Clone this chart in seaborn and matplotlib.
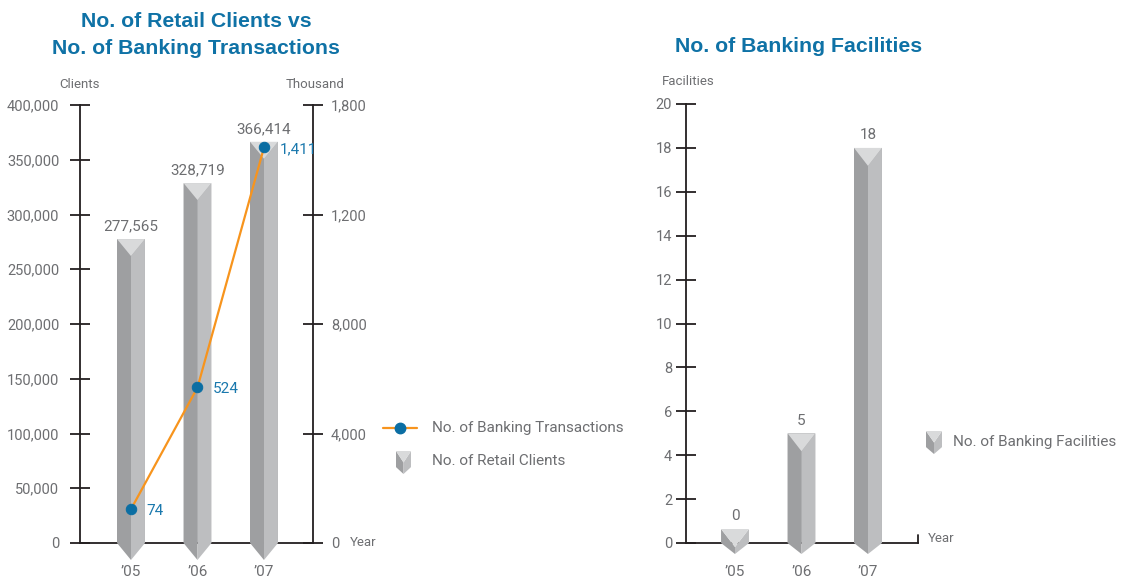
import matplotlib

matplotlib.use("Agg")

import matplotlib.pyplot as plt
import numpy as np
import seaborn as sns
from matplotlib import font_manager
from matplotlib.patches import Polygon

# data
years = ["’05", "’06", "’07"]
retail_clients = [277565, 328719, 366414]
banking_transactions = [74, 524, 1411]
client_ticks = list(range(0, 400001, 50000))
transaction_tick_labels = ["0", "4,000", "8,000", "1,200", "1,800"]
banking_facilities = [0, 5, 18]
facility_ticks = list(range(0, 21, 2))

W, H = 1131, 580
TITLE_BLUE = "#0f72a6"
LABEL_BLUE = "#1a78ad"
GRAY = "#6d6e71"
AXIS = "#231f20"
DARK = "#9e9fa1"
LIGHT = "#bdbec0"
CAP = "#d9dadb"
ORANGE = "#f7941d"
DOT = "#0b6ea3"

sns.set_style("white")
names = {f.name for f in font_manager.fontManager.ttflist}
body_font = "Liberation Sans Narrow" if "Liberation Sans Narrow" in names else "Roboto"
plt.rcParams["font.family"] = [body_font, "DejaVu Sans"]


def fig_xy(x, y):
    return x / W, 1 - y / H


def draw_prisms(ax, values, width, cap_px, tip_px, min_px=0):
    y0, y1 = ax.get_ylim()
    per_px = (y1 - y0) / (ax.get_position().height * H)
    tops = []
    for i, v in enumerate(values):
        top = max(v, min_px * per_px)
        x0, xc, x1 = i - width / 2, i, i + width / 2
        notch = top - cap_px * per_px
        tip = -tip_px * per_px
        shapes = [
            ([(x0, top), (xc, notch), (xc, tip), (x0, 0)], DARK),
            ([(x1, top), (xc, notch), (xc, tip), (x1, 0)], LIGHT),
            ([(x0, top), (x1, top), (xc, notch)], CAP),
        ]
        for pts, color in shapes:
            ax.add_patch(Polygon(pts, closed=True, fc=color, ec="none", zorder=2, clip_on=False))
        tops.append(top)
    return tops


def legend_icon(fig, x0, y0, w, h):
    x1, xc = x0 + w, x0 + w / 2
    notch, side, tip = y0 + 0.5 * h, y0 + 0.7 * h, y0 + h
    shapes = [
        ([(x0, y0), (xc, notch), (xc, tip), (x0, side)], DARK),
        ([(x1, y0), (xc, notch), (xc, tip), (x1, side)], LIGHT),
        ([(x0, y0), (x1, y0), (xc, notch)], CAP),
    ]
    for pts, color in shapes:
        fig.add_artist(Polygon([fig_xy(*p) for p in pts], closed=True, fc=color, ec="none",
                               transform=fig.transFigure))


def style_axis(ax, pad):
    ax.tick_params(axis="y", left=True, direction="inout", length=14, width=1.3, color=AXIS,
                   pad=pad, labelsize=10.5, labelcolor=GRAY)
    ax.tick_params(axis="x", bottom=True, length=0, pad=16, labelsize=11, labelcolor=GRAY)
    for side in ["top", "right"]:
        ax.spines[side].set_visible(False)
    for side in ["left", "bottom"]:
        ax.spines[side].set_color(AXIS)
        ax.spines[side].set_linewidth(1.3)
    ax.spines["bottom"].set_zorder(1)
    ax.set_xlabel("")
    ax.set_ylabel("")


fig = plt.figure(figsize=(W / 100, H / 100), dpi=100)

# left panel: retail clients vs banking transactions
ax1 = fig.add_axes([80 / W, 1 - 543 / H, 233 / W, 438 / H])
sns.barplot(x=years, y=retail_clients, ax=ax1, color=DARK, saturation=1, width=0.42,
            edgecolor="none")
ax1.set_ylim(0, 400000)
ax1.set_xlim(-0.767, 2.737)
ax1.set_yticks(client_ticks, [f"{t:,}" for t in client_ticks])
style_axis(ax1, pad=8)
tops = draw_prisms(ax1, retail_clients, 0.42, cap_px=17, tip_px=17)
for i, (v, top) in enumerate(zip(retail_clients, tops)):
    ax1.annotate(f"{v:,}", (i, top), xytext=(0, 4), textcoords="offset points",
                 ha="center", va="bottom", color=GRAY, fontsize=11)

ax2 = ax1.twinx()
sns.lineplot(x=years, y=banking_transactions, ax=ax2, color=ORANGE, lw=1.6, marker="o",
             markersize=7.5, markerfacecolor=DOT, markeredgecolor=DOT, legend=False)
ax2.set_ylim(-51, 1568)
ax2.set_yticks(np.linspace(-51, 1568, 5), transaction_tick_labels)
ax2.tick_params(axis="y", right=True, direction="inout", length=14, width=1.3, color=AXIS,
                pad=6, labelsize=10.5, labelcolor=GRAY)
for side in ["top", "left", "bottom"]:
    ax2.spines[side].set_visible(False)
ax2.spines["right"].set_color(AXIS)
ax2.spines["right"].set_linewidth(1.3)
ax2.set_ylabel("")
for i, v in enumerate(banking_transactions):
    ax2.annotate(f"{v:,}", (i, v), xytext=(11, -1), textcoords="offset points",
                 ha="left", va="center", color=LABEL_BLUE, fontsize=11)

fig.text(*fig_xy(196, 35), "No. of Retail Clients vs\nNo. of Banking Transactions",
         ha="center", va="center", fontsize=15.3, weight="bold", color=TITLE_BLUE,
         family=["Liberation Sans", "DejaVu Sans"], linespacing=1.5)
fig.text(*fig_xy(80, 84), "Clients", ha="center", va="center", fontsize=9.5, color=GRAY)
fig.text(*fig_xy(315, 84), "Thousand", ha="center", va="center", fontsize=9.5, color=GRAY)
fig.text(*fig_xy(350, 542), "Year", ha="left", va="center", fontsize=9.5, color=GRAY)

# left legend
fig.add_artist(plt.Line2D([383 / W, 417 / W], [1 - 428 / H] * 2, color=ORANGE, lw=1.6,
                          transform=fig.transFigure))
fig.add_artist(plt.Line2D([400 / W], [1 - 428 / H], marker="o", markersize=7.5, color=DOT,
                          transform=fig.transFigure))
fig.text(*fig_xy(432, 428), "No. of Banking Transactions", ha="left", va="center",
         fontsize=11, color=GRAY)
legend_icon(fig, 396, 451, 15, 23)
fig.text(*fig_xy(432, 461), "No. of Retail Clients", ha="left", va="center",
         fontsize=11, color=GRAY)

# right panel: banking facilities
ax3 = fig.add_axes([686 / W, 1 - 543 / H, 232 / W, 439 / H])
sns.barplot(x=years, y=banking_facilities, ax=ax3, color=DARK, saturation=1, width=0.42,
            edgecolor="none")
ax3.set_ylim(0, 20)
ax3.set_xlim(-0.737, 2.752)
ax3.set_yticks(facility_ticks, [str(t) for t in facility_ticks])
style_axis(ax3, pad=3)
tops = draw_prisms(ax3, banking_facilities, 0.42, cap_px=18, tip_px=11, min_px=14)
for i, (v, top) in enumerate(zip(banking_facilities, tops)):
    ax3.annotate(f"{v:,}", (i, top), xytext=(0, 4), textcoords="offset points",
                 ha="center", va="bottom", color=GRAY, fontsize=11)
ax3.plot([1, 1], [0, 0.018], transform=ax3.transAxes, color=AXIS, lw=1.3, clip_on=False)

fig.text(*fig_xy(799, 47), "No. of Banking Facilities", ha="center", va="center",
         fontsize=15.3, weight="bold", color=TITLE_BLUE, family=["Liberation Sans", "DejaVu Sans"])
fig.text(*fig_xy(688, 82), "Facilities", ha="center", va="center", fontsize=9.5, color=GRAY)
fig.text(*fig_xy(928, 538), "Year", ha="left", va="center", fontsize=9.5, color=GRAY)

legend_icon(fig, 926, 431, 16, 23)
fig.text(*fig_xy(953, 442), "No. of Banking Facilities", ha="left", va="center",
         fontsize=11, color=GRAY)

fig.savefig("out.png", dpi=100)
